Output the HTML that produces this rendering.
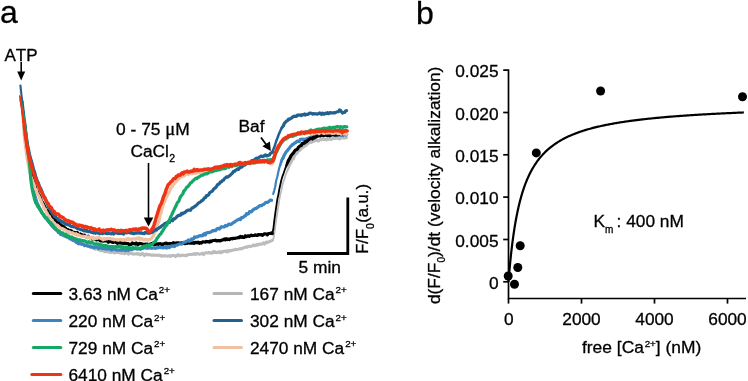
<!DOCTYPE html>
<html><head><meta charset="utf-8">
<style>
html,body{margin:0;padding:0;background:#fff;width:748px;height:381px;overflow:hidden}
svg{display:block;will-change:transform}
text{font-family:"Liberation Sans",sans-serif;fill:#000;stroke:#000;stroke-width:0.3px}
</style></head><body>
<svg width="748" height="381" viewBox="0 0 748 381">
<rect width="748" height="381" fill="#fff"/>
<!-- panel a -->
<text x="0" y="23.3" font-size="32">a</text>
<text x="4.5" y="60.8" font-size="17" style="font-kerning:none">ATP</text>
<line x1="21.2" y1="62" x2="21.2" y2="73" stroke="#000" stroke-width="1.6"/>
<path d="M17.2 71.5 L25.2 71.5 L21.2 80.5 Z" fill="#000"/>
<text x="116" y="135" font-size="17.4">0 - 75 <tspan font-family="Liberation Serif" font-size="18.5">μ</tspan>M</text>
<text x="130.5" y="156.6" font-size="17.3">CaCl<tspan font-size="10.5" dy="5.3" dx="0.3">2</tspan></text>
<line x1="148.5" y1="163" x2="148.5" y2="219" stroke="#000" stroke-width="1.6"/>
<path d="M143.8 217.5 L153.3 217.5 L148.5 226.5 Z" fill="#000"/>
<text x="238.5" y="131.8" font-size="17.3">Baf</text>
<line x1="261" y1="137.5" x2="266.5" y2="145" stroke="#000" stroke-width="1.8"/>
<path d="M262.4 146.2 L269.9 141.5 L270.8 151 Z" fill="#000"/>
<g fill="none" stroke-linejoin="round" stroke-linecap="round">
<path d="M20.5 100.2 L21.5 105.1 L22.5 110.5" stroke="#bcbcbc" stroke-width="2.0"/>
<path d="M22.5 110.5 L23.5 116.1" stroke="#bcbcbc" stroke-width="2.2"/>
<path d="M23.5 116.1 L24.5 124.1" stroke="#bcbcbc" stroke-width="2.8"/>
<path d="M24.5 124.1 L25.5 132.3 L26.5 140.7 L27.5 149.2 L28.5 157.0 L29.5 164.6 L30.5 171.7 L31.5 178.2 L32.5 183.5 L33.5 189.3 L34.5 194.1 L35.5 198.6 L36.5 201.4 L37.5 203.8 L38.5 205.7 L39.5 207.8 L40.5 209.7 L41.5 211.2 L42.5 213.5 L43.5 214.9 L44.5 214.7 L45.5 216.5 L46.5 218.6 L47.5 219.8 L48.5 221.3 L49.5 222.5 L50.5 224.5 L51.5 224.2 L52.5 225.7 L53.5 227.9 L54.5 228.4 L55.5 229.4 L56.5 229.9 L57.5 230.3 L58.5 231.9 L59.5 232.7 L60.5 232.8 L61.5 233.7 L62.5 234.6 L63.5 234.8 L64.5 235.8 L65.5 236.5 L66.5 237.0 L67.5 237.3 L68.5 238.3 L69.5 238.9 L70.5 239.1 L71.5 239.1 L72.5 240.2 L73.5 240.1 L74.5 241.2 L75.5 240.7 L76.5 242.0 L77.5 242.0 L78.5 241.8 L79.5 242.7 L80.5 243.2 L81.5 243.7 L82.5 243.6 L83.5 243.9 L84.5 244.9 L85.5 245.0 L86.5 245.7 L87.5 246.3 L88.5 245.6 L89.5 246.9 L90.5 247.7 L91.5 247.4 L92.5 247.5 L93.5 248.6 L94.5 248.7 L95.5 249.3 L96.5 249.1 L97.5 248.9 L98.5 249.8 L99.5 249.9 L100.5 250.7 L101.5 250.7 L102.5 250.1 L103.5 250.5 L104.5 251.7 L105.5 251.8 L106.5 251.3 L107.5 251.7 L108.5 252.1 L109.5 252.2 L110.5 252.5 L111.5 252.3 L112.5 252.2 L113.5 252.2 L114.5 252.9 L115.5 251.5 L116.5 252.5 L117.5 252.6 L118.5 252.0 L119.5 252.9 L120.5 252.5 L121.5 253.3 L122.5 252.9 L123.5 253.4 L124.5 253.7 L125.5 253.4 L126.5 252.9 L127.5 252.7 L128.5 254.2 L129.5 253.4 L130.5 253.3 L131.5 253.7 L132.5 253.6 L133.5 254.2 L134.5 253.9 L135.5 253.9 L136.5 253.6 L137.5 254.2 L138.5 253.6 L139.5 254.5 L140.5 254.9 L141.5 253.6 L142.5 253.3 L143.5 254.7 L144.5 255.7 L145.5 254.1 L146.5 254.1 L147.5 255.0 L148.5 254.5 L149.5 254.7 L150.5 254.8 L151.5 255.3 L152.5 255.0 L153.5 255.4 L154.5 255.2 L155.5 255.0 L156.5 255.3 L157.5 255.1 L158.5 255.6 L159.5 255.1 L160.5 255.2 L161.5 256.4 L162.5 255.8 L163.5 255.8 L164.5 256.1 L165.5 255.7 L166.5 255.9 L167.5 256.2 L168.5 256.1 L169.5 255.5 L170.5 256.4 L171.5 255.7 L172.5 255.5 L173.5 255.5 L174.5 255.7 L175.5 256.6 L176.5 255.3 L177.5 255.8 L178.5 254.7 L179.5 255.6 L180.5 255.9 L181.5 255.3 L182.5 255.1 L183.5 255.3 L184.5 255.5 L185.5 255.3 L186.5 255.8 L187.5 254.9 L188.5 254.5 L189.5 254.6 L190.5 254.5 L191.5 254.5 L192.5 254.3 L193.5 254.3 L194.5 253.4 L195.5 254.4 L196.5 253.7 L197.5 253.4 L198.5 254.1 L199.5 254.3 L200.5 253.9 L201.5 253.6 L202.5 253.1 L203.5 254.7 L204.5 253.7 L205.5 252.7 L206.5 252.8 L207.5 253.1 L208.5 252.3 L209.5 253.0 L210.5 252.6 L211.5 253.3 L212.5 253.1 L213.5 251.4 L214.5 252.5 L215.5 251.7 L216.5 252.8 L217.5 252.3 L218.5 252.4 L219.5 251.5 L220.5 252.7 L221.5 252.7 L222.5 251.2 L223.5 251.8 L224.5 251.2 L225.5 251.4 L226.5 250.7 L227.5 252.0 L228.5 250.6 L229.5 250.7 L230.5 251.0 L231.5 250.3 L232.5 250.3 L233.5 250.0 L234.5 250.0 L235.5 249.3 L236.5 249.5 L237.5 249.4 L238.5 249.1 L239.5 249.0 L240.5 248.6 L241.5 248.9 L242.5 248.2 L243.5 248.0 L244.5 247.5 L245.5 247.3 L246.5 246.8 L247.5 247.3 L248.5 246.3 L249.5 246.3 L250.5 246.5 L251.5 246.3 L252.5 245.8 L253.5 244.8 L254.5 245.7 L255.5 245.5 L256.5 244.5 L257.5 245.3 L258.5 244.4 L259.5 244.0 L260.5 244.4 L261.5 244.0 L262.5 243.9 L263.5 242.9 L264.5 244.1 L265.5 242.7 L266.5 242.0 L267.5 242.6 L268.5 241.8 L269.5 241.8 L270.5 241.1 L271.5 240.8 L272.5 240.2" stroke="#bcbcbc" stroke-width="3.0"/>
<path d="M272.5 240.2 L273.5 238.7 L274.5 232.5 L275.5 224.4 L276.5 217.7 L277.5 211.7 L278.5 205.2 L279.5 198.9 L280.5 193.7 L281.5 189.9 L282.5 184.8 L283.5 181.5 L284.5 178.8 L285.5 175.1 L286.5 172.9 L287.5 170.2" stroke="#bcbcbc" stroke-width="1.8"/>
<path d="M287.5 170.2 L288.5 168.2" stroke="#bcbcbc" stroke-width="2.0"/>
<path d="M288.5 168.2 L289.5 165.1" stroke="#bcbcbc" stroke-width="2.2"/>
<path d="M289.5 165.1 L290.5 163.0" stroke="#bcbcbc" stroke-width="2.8"/>
<path d="M290.5 163.0 L291.5 161.4 L292.5 158.1 L293.5 158.9 L294.5 155.7 L295.5 154.4 L296.5 153.8 L297.5 152.3 L298.5 150.4 L299.5 150.5 L300.5 149.7 L301.5 148.3 L302.5 147.6 L303.5 147.2 L304.5 145.9 L305.5 145.8 L306.5 145.0 L307.5 143.9 L308.5 143.0 L309.5 142.9 L310.5 142.1 L311.5 142.4 L312.5 141.6 L313.5 141.5 L314.5 140.9 L315.5 140.7 L316.5 140.1 L317.5 140.6 L318.5 141.0 L319.5 139.9 L320.5 139.6 L321.5 139.7 L322.5 139.4 L323.5 139.2 L324.5 139.5 L325.5 139.2 L326.5 139.9 L327.5 139.1 L328.5 139.2 L329.5 139.4 L330.5 138.7 L331.5 139.4 L332.5 138.4 L333.5 138.3 L334.5 138.4 L335.5 138.5 L336.5 137.8 L337.5 138.4 L338.5 137.6 L339.5 139.0 L340.5 138.3 L341.5 138.0 L342.5 137.8 L343.5 138.1 L344.5 138.1 L345.5 137.7 L346.5 137.8" stroke="#bcbcbc" stroke-width="3.0"/>
<path d="M20.5 99.6 L21.5 104.2 L22.5 110.3" stroke="#3b84c0" stroke-width="2.0"/>
<path d="M22.5 110.3 L23.5 116.8" stroke="#3b84c0" stroke-width="2.5"/>
<path d="M23.5 116.8 L24.5 124.2" stroke="#3b84c0" stroke-width="2.8"/>
<path d="M24.5 124.2 L25.5 132.2 L26.5 140.7 L27.5 148.6 L28.5 157.1 L29.5 165.2 L30.5 171.7 L31.5 177.4 L32.5 183.5 L33.5 190.3 L34.5 194.8 L35.5 198.1 L36.5 201.9 L37.5 203.9 L38.5 206.3 L39.5 208.2 L40.5 209.8 L41.5 212.1 L42.5 213.4 L43.5 214.7 L44.5 216.6 L45.5 218.2 L46.5 218.5 L47.5 220.4 L48.5 221.3 L49.5 222.8 L50.5 223.5 L51.5 225.3 L52.5 226.4 L53.5 227.4 L54.5 228.1 L55.5 229.5 L56.5 230.2 L57.5 231.0 L58.5 232.5 L59.5 232.7 L60.5 234.3 L61.5 234.7 L62.5 234.0 L63.5 235.6 L64.5 235.4 L65.5 236.4 L66.5 236.8 L67.5 236.3 L68.5 237.5 L69.5 238.0 L70.5 239.0 L71.5 238.6 L72.5 240.1 L73.5 239.8 L74.5 240.8 L75.5 241.1 L76.5 242.6 L77.5 242.6 L78.5 243.8 L79.5 243.4 L80.5 243.9 L81.5 244.2 L82.5 243.9 L83.5 244.5 L84.5 245.5 L85.5 245.0 L86.5 245.6 L87.5 245.8 L88.5 246.3 L89.5 246.1 L90.5 246.5 L91.5 246.9 L92.5 247.1 L93.5 246.8 L94.5 247.8 L95.5 247.0 L96.5 247.2 L97.5 247.3 L98.5 248.5 L99.5 248.0 L100.5 247.8 L101.5 247.9 L102.5 248.7 L103.5 248.2 L104.5 248.2 L105.5 249.1 L106.5 248.4 L107.5 248.9 L108.5 249.1 L109.5 249.0 L110.5 249.3 L111.5 250.1 L112.5 249.4 L113.5 249.1 L114.5 249.0 L115.5 249.8 L116.5 249.9 L117.5 250.2 L118.5 250.0 L119.5 250.0 L120.5 249.9 L121.5 249.9" stroke="#3b84c0" stroke-width="3.2"/>
<path d="M273.2 194.0 L274.2 190.6 L275.2 186.7 L276.2 180.5 L277.2 177.2 L278.2 172.6 L279.2 168.1 L280.2 165.1" stroke="#3b84c0" stroke-width="2.2"/>
<path d="M280.2 165.1 L281.2 161.9" stroke="#3b84c0" stroke-width="2.5"/>
<path d="M281.2 161.9 L282.2 159.1" stroke="#3b84c0" stroke-width="2.8"/>
<path d="M282.2 159.1 L283.2 157.7 L284.2 155.2 L285.2 153.5 L286.2 151.7 L287.2 150.9 L288.2 149.4 L289.2 148.5 L290.2 146.8 L291.2 146.0 L292.2 144.6 L293.2 144.4 L294.2 143.3 L295.2 142.7 L296.2 142.2 L297.2 141.1 L298.2 141.5 L299.2 141.6 L300.2 139.6 L301.2 139.2 L302.2 139.0 L303.2 139.8 L304.2 139.2 L305.2 139.4 L306.2 139.0 L307.2 138.5 L308.2 138.3 L309.2 137.8 L310.2 138.0 L311.2 136.8 L312.2 136.8 L313.2 136.7 L314.2 137.1 L315.2 135.7 L316.2 135.3 L317.2 135.3 L318.2 135.8 L319.2 135.1 L320.2 135.8 L321.2 134.3 L322.2 135.6 L323.2 135.6 L324.2 134.4 L325.2 135.1 L326.2 135.6 L327.2 135.0 L328.2 135.4 L329.2 136.0 L330.2 135.1 L331.2 134.8 L332.2 134.6 L333.2 135.2 L334.2 134.8 L335.2 134.8 L336.2 134.8 L337.2 135.1 L338.2 134.4 L339.2 134.1 L340.2 133.7 L341.2 135.4 L342.2 134.8 L343.2 135.5 L344.2 134.8 L345.2 134.5 L346.2 135.0" stroke="#3b84c0" stroke-width="3.2"/>
<path d="M20.3 95.9 L21.3 100.9 L22.3 110.0" stroke="#000000" stroke-width="2.0"/>
<path d="M22.3 110.0 L23.3 118.0" stroke="#000000" stroke-width="2.2"/>
<path d="M23.3 118.0 L24.3 127.8" stroke="#000000" stroke-width="2.8"/>
<path d="M24.3 127.8 L25.3 138.7 L26.3 146.3 L27.3 153.7 L28.3 159.2 L29.3 166.2 L30.3 169.5 L31.3 173.5 L32.3 177.6 L33.3 181.0 L34.3 184.0 L35.3 186.9 L36.3 189.7 L37.3 191.5 L38.3 194.0 L39.3 195.5 L40.3 197.6 L41.3 200.5 L42.3 202.2 L43.3 203.8 L44.3 205.9 L45.3 207.9 L46.3 210.1 L47.3 210.4 L48.3 211.7 L49.3 213.4 L50.3 213.7 L51.3 215.1 L52.3 216.8 L53.3 217.9 L54.3 218.8 L55.3 220.2 L56.3 219.7 L57.3 222.4 L58.3 222.5 L59.3 223.0 L60.3 224.7 L61.3 225.6 L62.3 225.8 L63.3 226.2 L64.3 227.4 L65.3 228.0 L66.3 229.3 L67.3 229.5 L68.3 229.8 L69.3 230.8 L70.3 230.6 L71.3 230.8 L72.3 231.9 L73.3 232.3 L74.3 232.4 L75.3 232.5 L76.3 233.4 L77.3 232.5 L78.3 234.3 L79.3 234.6 L80.3 234.0 L81.3 235.1 L82.3 234.9 L83.3 236.0 L84.3 235.1 L85.3 235.9 L86.3 236.9 L87.3 237.5 L88.3 236.3 L89.3 237.3 L90.3 238.0 L91.3 237.8 L92.3 239.1 L93.3 238.1 L94.3 239.0 L95.3 238.6 L96.3 239.9 L97.3 239.5 L98.3 239.6 L99.3 239.2 L100.3 240.9 L101.3 240.7 L102.3 240.9 L103.3 241.2 L104.3 241.0 L105.3 240.8 L106.3 240.9 L107.3 241.0 L108.3 242.2 L109.3 241.0 L110.3 241.6 L111.3 241.8 L112.3 242.2 L113.3 242.5 L114.3 241.8 L115.3 241.7 L116.3 242.6 L117.3 243.3 L118.3 243.2 L119.3 243.0 L120.3 242.9 L121.3 243.2 L122.3 243.1 L123.3 243.6 L124.3 243.0 L125.3 243.4 L126.3 243.4 L127.3 243.7 L128.3 243.7 L129.3 244.8 L130.3 244.4 L131.3 244.4 L132.3 242.9 L133.3 243.7 L134.3 243.6 L135.3 244.1 L136.3 242.9 L137.3 244.5 L138.3 244.5 L139.3 243.4 L140.3 243.6 L141.3 243.7 L142.3 244.0 L143.3 244.3 L144.3 245.0 L145.3 244.0 L146.3 244.4 L147.3 244.1 L148.3 244.9 L149.3 244.4 L150.3 244.7 L151.3 243.6 L152.3 244.0 L153.3 243.7 L154.3 244.8 L155.3 244.4 L156.3 244.0 L157.3 243.9 L158.3 244.3 L159.3 243.8 L160.3 243.6 L161.3 244.2 L162.3 245.1 L163.3 243.8 L164.3 243.6 L165.3 243.3 L166.3 243.1 L167.3 243.9 L168.3 244.0 L169.3 243.5 L170.3 243.6 L171.3 243.5 L172.3 243.5 L173.3 242.7 L174.3 243.1 L175.3 243.3 L176.3 242.9 L177.3 243.0 L178.3 242.8 L179.3 243.0 L180.3 243.5 L181.3 242.9 L182.3 243.0 L183.3 243.4 L184.3 243.3 L185.3 243.7 L186.3 242.0 L187.3 243.3 L188.3 242.6 L189.3 242.9 L190.3 243.2 L191.3 243.2 L192.3 243.2 L193.3 242.7 L194.3 243.3 L195.3 242.4 L196.3 242.4 L197.3 242.8 L198.3 242.1 L199.3 243.3 L200.3 242.7 L201.3 243.1 L202.3 242.1 L203.3 241.8 L204.3 242.0 L205.3 242.1 L206.3 241.4 L207.3 241.8 L208.3 241.5 L209.3 242.1 L210.3 241.0 L211.3 241.6 L212.3 240.8 L213.3 240.5 L214.3 240.5 L215.3 240.2 L216.3 240.7 L217.3 241.0 L218.3 240.5 L219.3 240.6 L220.3 240.9 L221.3 240.2 L222.3 240.1 L223.3 239.7 L224.3 239.0 L225.3 239.9 L226.3 238.7 L227.3 239.6 L228.3 239.2 L229.3 239.6 L230.3 238.9 L231.3 238.5 L232.3 238.8 L233.3 238.3 L234.3 238.3 L235.3 238.3 L236.3 238.0 L237.3 237.9 L238.3 237.4 L239.3 237.6 L240.3 236.5 L241.3 237.3 L242.3 236.6 L243.3 237.5 L244.3 237.4 L245.3 235.8 L246.3 236.6 L247.3 236.3 L248.3 235.8 L249.3 236.3 L250.3 235.7 L251.3 235.0 L252.3 235.6 L253.3 235.5 L254.3 235.5 L255.3 234.8 L256.3 235.5 L257.3 235.5 L258.3 234.5 L259.3 234.7 L260.3 234.8 L261.3 234.5 L262.3 235.4 L263.3 234.6 L264.3 233.9 L265.3 233.8 L266.3 234.0 L267.3 234.9 L268.3 233.6 L269.3 233.5 L270.3 233.4 L271.3 232.9 L272.3 233.6" stroke="#000000" stroke-width="3.2"/>
<path d="M272.3 233.6 L273.3 229.3 L274.3 220.6 L275.3 213.1 L276.3 206.4 L277.3 199.3 L278.3 195.1 L279.3 189.3 L280.3 184.8 L281.3 180.3 L282.3 176.8 L283.3 174.1 L284.3 171.2 L285.3 168.3 L286.3 165.9" stroke="#000000" stroke-width="1.8"/>
<path d="M286.3 165.9 L287.3 163.3" stroke="#000000" stroke-width="2.5"/>
<path d="M287.3 163.3 L288.3 160.8" stroke="#000000" stroke-width="3.0"/>
<path d="M288.3 160.8 L289.3 159.2 L290.3 157.2 L291.3 155.3 L292.3 154.2 L293.3 153.2 L294.3 151.6 L295.3 150.2 L296.3 149.7 L297.3 149.3 L298.3 147.4 L299.3 146.6 L300.3 145.7 L301.3 145.5 L302.3 143.3 L303.3 143.6 L304.3 143.2 L305.3 141.6 L306.3 142.0 L307.3 140.9 L308.3 139.8 L309.3 139.6 L310.3 138.4 L311.3 138.4 L312.3 139.0 L313.3 137.3 L314.3 138.1 L315.3 136.9 L316.3 137.0 L317.3 136.3 L318.3 135.0 L319.3 135.6 L320.3 135.9 L321.3 135.2 L322.3 135.0 L323.3 135.7 L324.3 135.2 L325.3 134.6 L326.3 135.0 L327.3 135.6 L328.3 135.0 L329.3 135.5 L330.3 135.7 L331.3 135.0 L332.3 134.4 L333.3 134.3 L334.3 134.9 L335.3 135.2 L336.3 134.9 L337.3 135.0 L338.3 134.5 L339.3 134.8 L340.3 134.5 L341.3 134.5 L342.3 134.1 L343.3 133.9 L344.3 134.4 L345.3 134.1 L346.3 134.2" stroke="#000000" stroke-width="3.2"/>
<path d="M20.1 85.7 L21.1 97.6 L22.1 110.0" stroke="#f1c0a0" stroke-width="2.0"/>
<path d="M22.1 110.0 L23.1 121.2" stroke="#f1c0a0" stroke-width="2.2"/>
<path d="M23.1 121.2 L24.1 132.1" stroke="#f1c0a0" stroke-width="2.8"/>
<path d="M24.1 132.1 L25.1 143.0 L26.1 150.7 L27.1 158.0 L28.1 163.1 L29.1 168.7 L30.1 172.8 L31.1 177.0 L32.1 179.6 L33.1 182.6 L34.1 184.5 L35.1 188.8 L36.1 189.4 L37.1 193.1 L38.1 194.6 L39.1 196.6 L40.1 198.8 L41.1 201.0 L42.1 203.7 L43.1 205.6 L44.1 208.4 L45.1 208.9 L46.1 211.6 L47.1 213.1 L48.1 215.7 L49.1 216.0 L50.1 218.1 L51.1 219.6 L52.1 220.1 L53.1 222.3 L54.1 223.0 L55.1 224.3 L56.1 225.2 L57.1 225.1 L58.1 225.9 L59.1 226.8 L60.1 227.9 L61.1 228.5 L62.1 228.4 L63.1 229.0 L64.1 229.4 L65.1 230.0 L66.1 230.6 L67.1 231.1 L68.1 232.5 L69.1 231.7 L70.1 232.2 L71.1 232.9 L72.1 232.7 L73.1 233.3 L74.1 233.7 L75.1 234.4 L76.1 233.7 L77.1 235.2 L78.1 234.7 L79.1 235.2 L80.1 235.8 L81.1 236.0 L82.1 236.4 L83.1 236.2 L84.1 236.4 L85.1 236.7 L86.1 236.4 L87.1 237.6 L88.1 236.9 L89.1 236.8 L90.1 238.5 L91.1 237.7 L92.1 237.3 L93.1 238.8 L94.1 238.0 L95.1 238.7 L96.1 237.9 L97.1 238.3 L98.1 237.7 L99.1 237.7 L100.1 238.1 L101.1 238.6 L102.1 239.1 L103.1 239.9 L104.1 238.4 L105.1 239.3 L106.1 238.6 L107.1 238.9 L108.1 238.3 L109.1 238.4 L110.1 238.8 L111.1 238.6 L112.1 239.2 L113.1 238.9 L114.1 239.9 L115.1 239.4 L116.1 239.5 L117.1 240.0 L118.1 239.7 L119.1 239.5 L120.1 239.5 L121.1 239.4 L122.1 240.0 L123.1 239.8 L124.1 239.6 L125.1 239.7 L126.1 239.1 L127.1 239.5 L128.1 238.5 L129.1 239.7 L130.1 239.1 L131.1 239.1 L132.1 239.2 L133.1 238.8 L134.1 238.7 L135.1 239.3 L136.1 238.7 L137.1 238.2 L138.1 238.8 L139.1 237.8 L140.1 239.3 L141.1 238.6 L142.1 238.7 L143.1 239.9 L144.1 239.9 L145.1 239.2 L146.1 239.5 L147.1 239.9 L148.1 240.2 L149.1 239.4 L150.1 239.3 L151.1 239.0 L152.1 237.4 L153.1 236.1 L154.1 234.3 L155.1 231.7 L156.1 229.3 L157.1 225.5 L158.1 223.2 L159.1 220.5 L160.1 215.4 L161.1 212.4 L162.1 208.7 L163.1 205.3 L164.1 202.7 L165.1 200.4 L166.1 197.8 L167.1 195.9 L168.1 193.9 L169.1 192.1 L170.1 190.1 L171.1 187.6 L172.1 186.7 L173.1 184.7 L174.1 183.8 L175.1 182.8 L176.1 181.5 L177.1 180.4 L178.1 179.5 L179.1 178.2 L180.1 177.3 L181.1 176.8 L182.1 176.6 L183.1 175.6 L184.1 176.0 L185.1 174.9 L186.1 173.2 L187.1 174.0 L188.1 174.7 L189.1 173.8 L190.1 173.4 L191.1 173.0 L192.1 173.8 L193.1 173.5 L194.1 173.2 L195.1 172.9 L196.1 173.3 L197.1 172.9 L198.1 171.8 L199.1 172.6 L200.1 172.1 L201.1 171.9 L202.1 172.1 L203.1 171.6 L204.1 170.1 L205.1 171.9 L206.1 171.4 L207.1 170.7 L208.1 170.3 L209.1 170.3 L210.1 169.3 L211.1 169.8 L212.1 169.2 L213.1 168.9 L214.1 168.3 L215.1 168.2 L216.1 168.7 L217.1 168.5 L218.1 167.8 L219.1 167.3 L220.1 166.7 L221.1 167.1 L222.1 167.3 L223.1 165.6 L224.1 166.7 L225.1 165.0 L226.1 165.7 L227.1 165.8 L228.1 164.9 L229.1 164.6 L230.1 165.3 L231.1 165.4 L232.1 164.7 L233.1 165.3 L234.1 164.3 L235.1 165.3 L236.1 164.4 L237.1 164.3 L238.1 164.4 L239.1 164.1 L240.1 164.7 L241.1 164.7 L242.1 163.9 L243.1 163.4 L244.1 162.9 L245.1 163.0 L246.1 163.2 L247.1 163.0 L248.1 163.0 L249.1 162.9 L250.1 163.0 L251.1 162.1 L252.1 162.1 L253.1 163.0 L254.1 162.7 L255.1 162.0 L256.1 162.7 L257.1 161.7 L258.1 161.8 L259.1 161.0 L260.1 162.1 L261.1 161.7 L262.1 162.1 L263.1 161.9 L264.1 161.6 L265.1 161.6 L266.1 162.0 L267.1 161.7 L268.1 162.2 L269.1 162.9 L270.1 163.7 L271.1 163.9 L272.1 163.8 L273.1 161.8 L274.1 160.0 L275.1 155.6 L276.1 152.6 L277.1 150.0 L278.1 148.6 L279.1 146.2 L280.1 144.0 L281.1 142.9 L282.1 141.5 L283.1 140.2 L284.1 139.4 L285.1 138.4 L286.1 139.4 L287.1 137.6 L288.1 137.5 L289.1 136.1 L290.1 135.8 L291.1 135.9 L292.1 135.6 L293.1 135.7 L294.1 134.5 L295.1 135.0 L296.1 135.1 L297.1 133.8 L298.1 134.4 L299.1 133.4 L300.1 133.8 L301.1 133.6 L302.1 134.2 L303.1 133.0 L304.1 133.3 L305.1 133.7 L306.1 132.7 L307.1 133.1 L308.1 132.7 L309.1 132.7 L310.1 133.3 L311.1 133.3 L312.1 134.1 L313.1 133.6 L314.1 133.5 L315.1 132.8 L316.1 132.7 L317.1 132.9 L318.1 131.8 L319.1 133.6 L320.1 132.5 L321.1 132.3 L322.1 132.6 L323.1 133.2 L324.1 133.4 L325.1 132.7 L326.1 133.1 L327.1 132.9 L328.1 132.5 L329.1 133.0 L330.1 133.0 L331.1 132.3 L332.1 133.6 L333.1 132.4 L334.1 133.3 L335.1 132.7 L336.1 132.9 L337.1 133.0 L338.1 133.7 L339.1 132.9 L340.1 133.5 L341.1 134.3 L342.1 133.4 L343.1 133.8 L344.1 134.2 L345.1 133.7 L346.1 134.3 L347.1 133.9" stroke="#f1c0a0" stroke-width="3.2"/>
<path d="M120.5 249.9 L121.5 249.9 L122.5 250.2 L123.5 249.9 L124.5 250.1 L125.5 250.8 L126.5 250.1 L127.5 249.1 L128.5 250.5 L129.5 249.7 L130.5 249.0 L131.5 249.8 L132.5 249.2 L133.5 248.8 L134.5 248.7 L135.5 248.5 L136.5 248.8 L137.5 249.2 L138.5 248.5 L139.5 248.7 L140.5 249.3 L141.5 247.9 L142.5 248.5 L143.5 248.1 L144.5 247.8 L145.5 247.7 L146.5 248.1 L147.5 248.3 L148.5 247.8 L149.5 248.0 L150.5 248.2 L151.5 248.0 L152.5 248.2 L153.5 248.0 L154.5 247.9 L155.5 248.5 L156.5 247.9 L157.5 247.6 L158.5 247.8 L159.5 247.0 L160.5 247.2 L161.5 247.7 L162.5 247.6 L163.5 247.9 L164.5 247.2 L165.5 246.5 L166.5 248.0 L167.5 247.5 L168.5 246.5 L169.5 247.5 L170.5 246.8 L171.5 245.8 L172.5 246.2 L173.5 246.0 L174.5 246.6 L175.5 245.3 L176.5 245.2 L177.5 244.9 L178.5 244.5 L179.5 243.9 L180.5 244.0 L181.5 244.1 L182.5 243.5 L183.5 242.4 L184.5 242.0 L185.5 242.1 L186.5 241.3 L187.5 240.9 L188.5 240.0 L189.5 241.2 L190.5 240.2 L191.5 238.9 L192.5 239.3 L193.5 239.0 L194.5 236.9 L195.5 237.3 L196.5 236.9 L197.5 237.0 L198.5 236.3 L199.5 235.8 L200.5 235.5 L201.5 236.0 L202.5 235.8 L203.5 234.2 L204.5 233.6 L205.5 234.9 L206.5 232.9 L207.5 232.7 L208.5 232.6 L209.5 232.4 L210.5 232.2 L211.5 231.6 L212.5 230.6 L213.5 230.9 L214.5 230.4 L215.5 230.7 L216.5 229.5 L217.5 228.5 L218.5 228.3 L219.5 229.0 L220.5 227.8 L221.5 226.7 L222.5 227.0 L223.5 226.8 L224.5 226.9 L225.5 225.5 L226.5 225.9 L227.5 225.5 L228.5 224.4 L229.5 224.1 L230.5 224.6 L231.5 224.1 L232.5 223.2 L233.5 222.4 L234.5 222.2 L235.5 221.1 L236.5 220.6 L237.5 219.7 L238.5 219.5 L239.5 218.9 L240.5 219.6 L241.5 217.6 L242.5 217.7 L243.5 217.1 L244.5 215.9 L245.5 215.9 L246.5 213.7 L247.5 214.1 L248.5 213.8 L249.5 211.6 L250.5 211.5 L251.5 211.8 L252.5 210.5 L253.5 209.5 L254.5 209.1 L255.5 208.4 L256.5 208.3 L257.5 207.5 L258.5 206.6 L259.5 205.9 L260.5 205.6 L261.5 205.7 L262.5 204.8 L263.5 204.5 L264.5 203.6 L265.5 202.6 L266.5 202.4 L267.5 202.5 L268.5 201.8 L269.5 200.8 L270.5 200.0 L271.5 200.3" stroke="#3b84c0" stroke-width="3.2"/>
<path d="M20.5 85.5 L21.5 95.1 L22.5 102.1" stroke="#22618f" stroke-width="2.0"/>
<path d="M22.5 102.1 L23.5 111.9" stroke="#22618f" stroke-width="2.5"/>
<path d="M23.5 111.9 L24.5 121.3" stroke="#22618f" stroke-width="2.8"/>
<path d="M24.5 121.3 L25.5 130.3 L26.5 138.0 L27.5 144.8 L28.5 149.5 L29.5 154.3 L30.5 158.3 L31.5 161.5 L32.5 165.2 L33.5 169.2 L34.5 172.0 L35.5 175.8 L36.5 178.7 L37.5 181.6 L38.5 183.4 L39.5 186.6 L40.5 188.1 L41.5 190.6 L42.5 193.3 L43.5 195.7 L44.5 197.0 L45.5 199.1 L46.5 202.2 L47.5 203.9 L48.5 206.9 L49.5 208.6 L50.5 210.3 L51.5 211.9 L52.5 213.7 L53.5 214.6 L54.5 216.4 L55.5 216.8 L56.5 218.0 L57.5 218.6 L58.5 219.9 L59.5 220.3 L60.5 220.5 L61.5 222.3 L62.5 221.7 L63.5 222.3 L64.5 223.1 L65.5 224.2 L66.5 223.8 L67.5 224.7 L68.5 224.9 L69.5 224.6 L70.5 226.1 L71.5 226.6 L72.5 226.4 L73.5 226.9 L74.5 226.6 L75.5 227.0 L76.5 227.9 L77.5 228.7 L78.5 228.5 L79.5 229.1 L80.5 229.7 L81.5 229.6 L82.5 230.1 L83.5 230.8 L84.5 229.8 L85.5 231.0 L86.5 230.1 L87.5 231.4 L88.5 231.6 L89.5 231.6 L90.5 231.7 L91.5 232.4 L92.5 232.5 L93.5 232.9 L94.5 232.6 L95.5 233.3 L96.5 232.6 L97.5 233.0 L98.5 233.0 L99.5 233.8 L100.5 232.5 L101.5 233.1 L102.5 233.8 L103.5 233.0 L104.5 232.8 L105.5 233.5 L106.5 233.2 L107.5 233.7 L108.5 233.0 L109.5 233.5 L110.5 233.7 L111.5 233.9 L112.5 232.9 L113.5 234.0 L114.5 233.0 L115.5 232.7 L116.5 232.9 L117.5 233.4 L118.5 233.2 L119.5 233.5 L120.5 233.5 L121.5 233.4 L122.5 233.2 L123.5 234.1 L124.5 232.2 L125.5 232.4 L126.5 233.0 L127.5 232.6 L128.5 232.0 L129.5 232.8 L130.5 232.8 L131.5 232.0 L132.5 233.5 L133.5 233.6 L134.5 233.6 L135.5 232.8 L136.5 233.1 L137.5 232.5 L138.5 233.1 L139.5 232.7 L140.5 233.2 L141.5 232.8 L142.5 233.5 L143.5 233.4 L144.5 233.6 L145.5 232.3 L146.5 232.2 L147.5 233.2 L148.5 232.7 L149.5 233.2 L150.5 232.9 L151.5 232.4 L152.5 232.1 L153.5 231.3 L154.5 230.6 L155.5 229.4 L156.5 230.0 L157.5 228.7 L158.5 228.4 L159.5 227.4 L160.5 227.2 L161.5 226.0 L162.5 225.4 L163.5 224.8 L164.5 223.8 L165.5 223.3 L166.5 222.9 L167.5 222.4 L168.5 221.5 L169.5 222.4 L170.5 220.4 L171.5 220.1 L172.5 220.8 L173.5 218.8 L174.5 218.9 L175.5 218.2 L176.5 217.2 L177.5 216.1 L178.5 215.4 L179.5 215.5 L180.5 215.1 L181.5 213.3 L182.5 213.8 L183.5 212.8 L184.5 212.9 L185.5 212.0 L186.5 210.9 L187.5 210.5 L188.5 210.1 L189.5 210.1 L190.5 210.3 L191.5 208.5 L192.5 207.8 L193.5 207.4 L194.5 206.4 L195.5 206.0 L196.5 205.1 L197.5 204.1 L198.5 202.9 L199.5 202.5 L200.5 201.9 L201.5 200.7 L202.5 200.4 L203.5 199.2 L204.5 197.8 L205.5 197.7 L206.5 195.5 L207.5 195.6 L208.5 195.0 L209.5 193.0 L210.5 192.1 L211.5 191.6 L212.5 190.9 L213.5 189.4 L214.5 188.4 L215.5 187.7 L216.5 186.4 L217.5 184.8 L218.5 184.3 L219.5 183.5 L220.5 181.9 L221.5 181.9 L222.5 180.5 L223.5 180.3 L224.5 178.5 L225.5 177.9 L226.5 176.8 L227.5 177.2 L228.5 176.4 L229.5 175.7 L230.5 174.9 L231.5 173.9 L232.5 173.1 L233.5 171.3 L234.5 171.5 L235.5 170.4 L236.5 169.9 L237.5 168.8 L238.5 169.3 L239.5 168.2 L240.5 166.9 L241.5 167.2 L242.5 166.3 L243.5 165.3 L244.5 165.1 L245.5 164.4 L246.5 163.1 L247.5 162.9 L248.5 163.3 L249.5 162.7 L250.5 162.1 L251.5 160.9 L252.5 160.6 L253.5 160.3 L254.5 160.1 L255.5 158.8 L256.5 158.2 L257.5 158.7 L258.5 157.7 L259.5 157.0 L260.5 156.4 L261.5 156.1 L262.5 156.7 L263.5 156.2 L264.5 155.4 L265.5 154.8 L266.5 156.0 L267.5 155.7 L268.5 155.3 L269.5 154.9 L270.5 153.2 L271.5 152.9 L272.5 151.9" stroke="#22618f" stroke-width="3.2"/>
<path d="M272.5 151.9 L273.5 149.1 L274.5 146.8 L275.5 143.5 L276.5 140.3 L277.5 138.0 L278.5 135.0 L279.5 132.7 L280.5 130.5 L281.5 128.3" stroke="#22618f" stroke-width="2.5"/>
<path d="M281.5 128.3 L282.5 126.9" stroke="#22618f" stroke-width="2.8"/>
<path d="M282.5 126.9 L283.5 125.6" stroke="#22618f" stroke-width="3.0"/>
<path d="M283.5 125.6 L284.5 123.0 L285.5 122.3 L286.5 121.1 L287.5 120.8 L288.5 119.1 L289.5 119.3 L290.5 118.6 L291.5 118.1 L292.5 116.9 L293.5 116.8 L294.5 116.0 L295.5 116.4 L296.5 116.4 L297.5 115.0 L298.5 115.1 L299.5 115.2 L300.5 114.9 L301.5 115.6 L302.5 114.7 L303.5 114.7 L304.5 114.0 L305.5 115.0 L306.5 114.3 L307.5 114.5 L308.5 114.1 L309.5 113.0 L310.5 113.2 L311.5 113.3 L312.5 114.1 L313.5 113.6 L314.5 114.0 L315.5 113.9 L316.5 113.8 L317.5 114.1 L318.5 113.7 L319.5 112.9 L320.5 113.3 L321.5 114.3 L322.5 113.1 L323.5 114.1 L324.5 114.2 L325.5 113.2 L326.5 113.6 L327.5 112.7 L328.5 113.7 L329.5 112.9 L330.5 112.6 L331.5 113.0 L332.5 112.9 L333.5 112.7 L334.5 113.0 L335.5 112.6 L336.5 112.0 L337.5 111.8 L338.5 111.6 L339.5 110.0 L340.5 110.4 L341.5 111.8 L342.5 113.0 L343.5 112.5 L344.5 112.5 L345.5 111.1 L346.5 110.7" stroke="#22618f" stroke-width="3.2"/>
<path d="M20.8 100.0 L21.8 105.7" stroke="#14a866" stroke-width="2.0"/>
<path d="M21.8 105.7 L22.8 111.7" stroke="#14a866" stroke-width="2.2"/>
<path d="M22.8 111.7 L23.8 118.2" stroke="#14a866" stroke-width="2.5"/>
<path d="M23.8 118.2 L24.8 126.0" stroke="#14a866" stroke-width="3.0"/>
<path d="M24.8 126.0 L25.8 134.4 L26.8 143.4 L27.8 151.5 L28.8 157.9 L29.8 166.9 L30.8 179.6 L31.8 186.6 L32.8 192.2 L33.8 196.2 L34.8 200.0 L35.8 203.0 L36.8 204.3 L37.8 206.6 L38.8 207.6 L39.8 209.4 L40.8 210.7 L41.8 212.8 L42.8 213.7 L43.8 215.6 L44.8 216.8 L45.8 217.8 L46.8 217.8 L47.8 219.8 L48.8 221.1 L49.8 222.3 L50.8 222.7 L51.8 224.3 L52.8 225.2 L53.8 226.4 L54.8 228.2 L55.8 228.4 L56.8 229.6 L57.8 230.8 L58.8 230.8 L59.8 231.6 L60.8 232.3 L61.8 232.9 L62.8 232.9 L63.8 234.0 L64.8 235.0 L65.8 234.2 L66.8 235.8 L67.8 235.9 L68.8 235.9 L69.8 237.5 L70.8 237.4 L71.8 236.9 L72.8 237.8 L73.8 238.4 L74.8 238.4 L75.8 239.1 L76.8 239.1 L77.8 239.7 L78.8 240.4 L79.8 239.7 L80.8 240.4 L81.8 240.4 L82.8 240.9 L83.8 240.6 L84.8 241.1 L85.8 241.5 L86.8 242.3 L87.8 242.6 L88.8 241.7 L89.8 242.2 L90.8 243.1 L91.8 242.1 L92.8 243.0 L93.8 243.4 L94.8 244.2 L95.8 244.2 L96.8 243.9 L97.8 244.1 L98.8 244.4 L99.8 245.4 L100.8 244.7 L101.8 245.0 L102.8 245.5 L103.8 245.5 L104.8 245.6 L105.8 245.4 L106.8 246.0 L107.8 246.0 L108.8 246.8 L109.8 246.7 L110.8 246.5 L111.8 246.8 L112.8 246.5 L113.8 247.1 L114.8 246.7 L115.8 247.0 L116.8 246.2 L117.8 247.0 L118.8 246.2 L119.8 246.1 L120.8 246.9 L121.8 246.7 L122.8 247.3 L123.8 248.3 L124.8 247.0 L125.8 247.1 L126.8 247.6 L127.8 247.8 L128.8 247.6 L129.8 247.6 L130.8 248.1 L131.8 248.1 L132.8 247.5 L133.8 248.0 L134.8 248.1 L135.8 247.6 L136.8 248.3 L137.8 247.8 L138.8 248.6 L139.8 248.3 L140.8 248.2 L141.8 247.6 L142.8 247.3 L143.8 246.0 L144.8 246.1 L145.8 246.5 L146.8 245.1 L147.8 246.3 L148.8 244.9 L149.8 245.7 L150.8 244.7 L151.8 244.9 L152.8 243.8 L153.8 242.0 L154.8 242.1 L155.8 240.8 L156.8 238.8 L157.8 237.4 L158.8 236.1 L159.8 234.5 L160.8 234.1 L161.8 232.0 L162.8 230.8 L163.8 229.0 L164.8 227.6 L165.8 225.7 L166.8 225.2 L167.8 222.9 L168.8 221.5 L169.8 219.1 L170.8 216.6 L171.8 214.6 L172.8 212.3 L173.8 210.4 L174.8 208.2 L175.8 206.3 L176.8 203.8 L177.8 202.1 L178.8 201.2 L179.8 198.3 L180.8 196.2 L181.8 195.1 L182.8 193.9 L183.8 191.1 L184.8 190.3 L185.8 188.8 L186.8 187.0 L187.8 186.8 L188.8 185.3 L189.8 184.2 L190.8 182.7 L191.8 182.3 L192.8 180.9 L193.8 180.2 L194.8 179.0 L195.8 178.3 L196.8 178.7 L197.8 177.3 L198.8 177.1 L199.8 176.4 L200.8 175.7 L201.8 175.2 L202.8 175.2 L203.8 174.4 L204.8 174.0 L205.8 173.7 L206.8 173.8 L207.8 173.2 L208.8 172.7 L209.8 171.9 L210.8 171.2 L211.8 172.0 L212.8 171.6 L213.8 170.8 L214.8 170.8 L215.8 170.6 L216.8 170.3 L217.8 170.1 L218.8 169.2 L219.8 169.8 L220.8 168.3 L221.8 169.0 L222.8 168.5 L223.8 168.5 L224.8 168.7 L225.8 168.3 L226.8 166.9 L227.8 166.4 L228.8 167.3 L229.8 166.3 L230.8 166.5 L231.8 166.7 L232.8 165.4 L233.8 165.0 L234.8 165.8 L235.8 165.5 L236.8 165.2 L237.8 165.2 L238.8 164.6 L239.8 164.1 L240.8 164.5 L241.8 164.0 L242.8 163.5 L243.8 164.3 L244.8 163.9 L245.8 163.9 L246.8 163.1 L247.8 163.1 L248.8 162.7 L249.8 162.6 L250.8 162.9 L251.8 162.3 L252.8 162.6 L253.8 162.4 L254.8 162.9 L255.8 161.1 L256.8 162.0 L257.8 161.3 L258.8 161.1 L259.8 160.3 L260.8 160.6 L261.8 161.0 L262.8 160.6 L263.8 160.6 L264.8 160.4 L265.8 161.0 L266.8 160.6 L267.8 159.7 L268.8 160.5 L269.8 160.0 L270.8 159.5 L271.8 160.8 L272.8 161.1 L273.8 158.6 L274.8 155.4 L275.8 152.9 L276.8 151.6 L277.8 149.2 L278.8 147.2 L279.8 145.3 L280.8 143.5 L281.8 142.3 L282.8 141.0 L283.8 140.0 L284.8 138.7 L285.8 138.8 L286.8 137.7 L287.8 137.9 L288.8 136.4 L289.8 136.5 L290.8 136.2 L291.8 135.2 L292.8 136.3 L293.8 135.8 L294.8 134.7 L295.8 135.0 L296.8 134.5 L297.8 132.9 L298.8 133.9 L299.8 133.5 L300.8 133.3 L301.8 132.5 L302.8 132.6 L303.8 132.4 L304.8 132.7 L305.8 132.1 L306.8 131.7 L307.8 132.1 L308.8 131.0 L309.8 130.8 L310.8 129.9 L311.8 131.2 L312.8 130.8 L313.8 130.5 L314.8 130.2 L315.8 129.8 L316.8 129.6 L317.8 129.2 L318.8 129.0 L319.8 129.0 L320.8 129.5 L321.8 128.9 L322.8 128.5 L323.8 128.2 L324.8 128.1 L325.8 129.0 L326.8 128.4 L327.8 128.1 L328.8 127.8 L329.8 127.3 L330.8 127.7 L331.8 128.0 L332.8 127.4 L333.8 127.3 L334.8 127.3 L335.8 127.3 L336.8 126.5 L337.8 127.0 L338.8 126.7 L339.8 127.4 L340.8 126.6 L341.8 127.2 L342.8 127.6 L343.8 126.7 L344.8 126.6 L345.8 126.9 L346.8 126.8" stroke="#14a866" stroke-width="3.2"/>
<path d="M20.2 97.2 L21.2 104.5 L22.2 111.7" stroke="#ef3415" stroke-width="2.0"/>
<path d="M22.2 111.7 L23.2 119.3" stroke="#ef3415" stroke-width="2.2"/>
<path d="M23.2 119.3 L24.2 126.0" stroke="#ef3415" stroke-width="2.8"/>
<path d="M24.2 126.0 L25.2 134.4" stroke="#ef3415" stroke-width="3.2"/>
<path d="M25.2 134.4 L26.2 140.8 L27.2 147.2 L28.2 152.3 L29.2 157.2 L30.2 161.1 L31.2 164.7 L32.2 168.7 L33.2 172.3 L34.2 174.3 L35.2 177.7 L36.2 180.1 L37.2 183.2 L38.2 184.6 L39.2 187.2 L40.2 189.7 L41.2 191.7 L42.2 192.8 L43.2 195.6 L44.2 197.3 L45.2 199.0 L46.2 200.8 L47.2 202.7 L48.2 203.4 L49.2 206.5 L50.2 206.8 L51.2 207.4 L52.2 209.5 L53.2 211.3 L54.2 211.4 L55.2 213.3 L56.2 214.2 L57.2 213.9 L58.2 213.9 L59.2 215.2 L60.2 217.0 L61.2 216.8 L62.2 217.1 L63.2 217.8 L64.2 218.9 L65.2 219.5 L66.2 220.4 L67.2 221.0 L68.2 220.6 L69.2 221.4 L70.2 221.4 L71.2 222.4 L72.2 222.2 L73.2 222.6 L74.2 224.5 L75.2 223.9 L76.2 224.5 L77.2 225.7 L78.2 225.2 L79.2 225.1 L80.2 225.5 L81.2 225.4 L82.2 226.4 L83.2 226.1 L84.2 227.2 L85.2 226.5 L86.2 226.8 L87.2 227.0 L88.2 227.7 L89.2 227.7 L90.2 228.4 L91.2 227.8 L92.2 228.4 L93.2 229.4 L94.2 228.7 L95.2 229.3 L96.2 230.1 L97.2 229.9 L98.2 229.6 L99.2 229.1 L100.2 231.3 L101.2 230.5 L102.2 230.9 L103.2 230.1 L104.2 231.1 L105.2 230.4 L106.2 230.2 L107.2 229.7 L108.2 230.2 L109.2 229.8 L110.2 229.9 L111.2 229.3 L112.2 229.9 L113.2 230.3 L114.2 229.8 L115.2 230.6 L116.2 231.0 L117.2 230.7 L118.2 230.6 L119.2 230.7 L120.2 231.4 L121.2 230.3 L122.2 230.8 L123.2 230.7 L124.2 230.9 L125.2 230.7 L126.2 230.2 L127.2 231.5 L128.2 230.6 L129.2 229.8 L130.2 229.8 L131.2 230.1 L132.2 230.2 L133.2 229.2 L134.2 230.0 L135.2 228.9 L136.2 229.0 L137.2 229.6 L138.2 229.8 L139.2 228.9 L140.2 228.6 L141.2 229.1 L142.2 227.9 L143.2 228.2 L144.2 228.0 L145.2 228.3 L146.2 228.3 L147.2 229.4 L148.2 231.4 L149.2 231.3 L150.2 231.8 L151.2 230.2 L152.2 228.7 L153.2 227.3 L154.2 224.5 L155.2 221.3 L156.2 217.6 L157.2 214.5 L158.2 211.3 L159.2 208.0 L160.2 205.2 L161.2 203.7 L162.2 201.1 L163.2 197.5 L164.2 195.3 L165.2 193.0 L166.2 189.5 L167.2 187.2 L168.2 184.7 L169.2 184.1 L170.2 182.7 L171.2 181.5 L172.2 181.0 L173.2 179.2 L174.2 178.4 L175.2 178.6 L176.2 176.4 L177.2 176.6 L178.2 174.9 L179.2 175.0 L180.2 175.2 L181.2 173.8 L182.2 172.8 L183.2 173.8 L184.2 172.1 L185.2 172.0 L186.2 172.0 L187.2 171.1 L188.2 172.0 L189.2 172.1 L190.2 171.6 L191.2 171.2 L192.2 170.9 L193.2 171.2 L194.2 169.3 L195.2 170.6 L196.2 170.6 L197.2 169.5 L198.2 170.5 L199.2 170.2 L200.2 170.1 L201.2 170.0 L202.2 170.1 L203.2 170.0 L204.2 169.2 L205.2 169.4 L206.2 169.2 L207.2 169.2 L208.2 168.7 L209.2 169.2 L210.2 169.2 L211.2 169.1 L212.2 169.1 L213.2 168.7 L214.2 167.6 L215.2 167.3 L216.2 167.2 L217.2 167.4 L218.2 166.9 L219.2 167.3 L220.2 167.4 L221.2 166.2 L222.2 166.7 L223.2 165.9 L224.2 165.3 L225.2 165.2 L226.2 165.5 L227.2 164.6 L228.2 165.5 L229.2 165.8 L230.2 164.5 L231.2 164.7 L232.2 165.4 L233.2 164.7 L234.2 164.5 L235.2 164.2 L236.2 164.6 L237.2 164.2 L238.2 163.4 L239.2 162.7 L240.2 162.4 L241.2 163.8 L242.2 163.3 L243.2 163.9 L244.2 163.4 L245.2 162.5 L246.2 163.0 L247.2 163.3 L248.2 162.3 L249.2 162.3 L250.2 163.3 L251.2 161.6 L252.2 161.7 L253.2 162.6 L254.2 162.1 L255.2 161.3 L256.2 161.1 L257.2 161.8 L258.2 162.1 L259.2 161.8 L260.2 161.5 L261.2 161.9 L262.2 161.3 L263.2 160.7 L264.2 161.9 L265.2 160.5 L266.2 160.9 L267.2 161.2 L268.2 162.4 L269.2 161.9 L270.2 162.6 L271.2 161.9 L272.2 161.6 L273.2 159.8 L274.2 157.1 L275.2 153.3 L276.2 151.0 L277.2 148.4 L278.2 146.7 L279.2 145.0 L280.2 144.0 L281.2 141.7 L282.2 140.8 L283.2 139.3 L284.2 138.6 L285.2 137.8 L286.2 137.4 L287.2 137.3 L288.2 135.9 L289.2 136.3 L290.2 135.2 L291.2 135.4 L292.2 134.7 L293.2 134.5 L294.2 134.2 L295.2 134.5 L296.2 133.9 L297.2 134.0 L298.2 133.2 L299.2 133.0 L300.2 133.7 L301.2 132.1 L302.2 132.3 L303.2 132.5 L304.2 133.3 L305.2 132.0 L306.2 132.6 L307.2 132.8 L308.2 131.9 L309.2 131.8 L310.2 132.6 L311.2 131.5 L312.2 131.2 L313.2 131.9 L314.2 131.3 L315.2 132.0 L316.2 131.6 L317.2 130.5 L318.2 131.4 L319.2 131.2 L320.2 130.9 L321.2 131.7 L322.2 130.4 L323.2 130.6 L324.2 131.0 L325.2 131.5 L326.2 130.5 L327.2 130.9 L328.2 130.9 L329.2 130.5 L330.2 131.0 L331.2 130.7 L332.2 131.0 L333.2 131.3 L334.2 130.8 L335.2 130.8 L336.2 130.7 L337.2 130.8 L338.2 130.5 L339.2 130.6 L340.2 131.2 L341.2 130.8 L342.2 132.7 L343.2 130.8 L344.2 131.4 L345.2 130.5 L346.2 131.1 L347.2 130.9" stroke="#ef3415" stroke-width="3.5"/>
</g>
<!-- scale bar -->
<path d="M347.8 197.5 L347.8 253.5 L287 253.5" fill="none" stroke="#000" stroke-width="2.8"/>
<text x="298.5" y="272.6" font-size="17.4">5 min</text>
<text transform="translate(367.8 253.8) rotate(-90)" font-size="16.6">F/F<tspan font-size="10.5" dy="5.8">0</tspan><tspan dy="-5.8" dx="0.3">(a.u.)</tspan></text>
<!-- legend -->
<g stroke-width="3" stroke-linecap="round">
<line x1="33.3" y1="293.4" x2="60.8" y2="293.4" stroke="#000"/>
<line x1="33.3" y1="320.6" x2="60.8" y2="320.6" stroke="#3b84c0"/>
<line x1="33.3" y1="347.6" x2="60.8" y2="347.6" stroke="#14a866"/>
<line x1="31.8" y1="374.5" x2="60.8" y2="374.5" stroke="#ef3415"/>
<line x1="214" y1="293.6" x2="241.5" y2="293.6" stroke="#b5b5b5"/>
<line x1="214" y1="320.4" x2="241.5" y2="320.4" stroke="#22618f"/>
<line x1="214" y1="347.5" x2="241.5" y2="347.5" stroke="#f1c0a0"/>
</g>
<g font-size="17.3">
<text x="68.5" y="299.5">3.63 nM Ca<tspan font-size="9.8" dy="-6.2" dx="1">2+</tspan></text>
<text x="68.5" y="326.8">220 nM Ca<tspan font-size="9.8" dy="-6.2" dx="1">2+</tspan></text>
<text x="68.5" y="353.6">729 nM Ca<tspan font-size="9.8" dy="-6.2" dx="1">2+</tspan></text>
<text x="68.5" y="380.6">6410 nM Ca<tspan font-size="9.8" dy="-6.2" dx="1">2+</tspan></text>
<text x="250" y="299.5">167 nM Ca<tspan font-size="9.8" dy="-6.2" dx="1">2+</tspan></text>
<text x="250" y="326.8">302 nM Ca<tspan font-size="9.8" dy="-6.2" dx="1">2+</tspan></text>
<text x="250" y="353.6">2470 nM Ca<tspan font-size="9.8" dy="-6.2" dx="1">2+</tspan></text>
</g>
<!-- panel b -->
<text x="416" y="23.6" font-size="32">b</text>
<path d="M503.2 70.2 L508.5 70.2 L508.5 298.5 L746 298.5" fill="none" stroke="#000" stroke-width="1.7"/>
<g stroke="#000" stroke-width="1.7">
<line x1="503.2" y1="112.5" x2="508.5" y2="112.5"/>
<line x1="503.2" y1="154.8" x2="508.5" y2="154.8"/>
<line x1="503.2" y1="197.1" x2="508.5" y2="197.1"/>
<line x1="503.2" y1="239.5" x2="508.5" y2="239.5"/>
<line x1="503.2" y1="281.8" x2="508.5" y2="281.8"/>
<line x1="508.5" y1="298.5" x2="508.5" y2="303.6"/>
<line x1="581.5" y1="298.5" x2="581.5" y2="303.6"/>
<line x1="654.5" y1="298.5" x2="654.5" y2="303.6"/>
<line x1="727.5" y1="298.5" x2="727.5" y2="303.6"/>
</g>
<g font-size="17.3" text-anchor="end">
<text x="498.5" y="77.2">0.025</text>
<text x="498.5" y="119.5">0.020</text>
<text x="498.5" y="161.8">0.015</text>
<text x="498.5" y="204.1">0.010</text>
<text x="498.5" y="246.5">0.005</text>
<text x="498.5" y="288.8">0</text>
</g>
<g font-size="17.3" text-anchor="middle">
<text x="508.9" y="324.8">0</text>
<text x="581.5" y="324.8">2000</text>
<text x="654.5" y="324.8">4000</text>
<text x="727.5" y="324.8">6000</text>
</g>
<text x="582" y="353.4" font-size="17.4">free [Ca<tspan font-size="9.8" dy="-6.2" dx="0.8">2+</tspan><tspan dy="6.2">] (nM)</tspan></text>
<text transform="translate(439.5 304.1) rotate(-90)" font-size="17.4">d(F/F<tspan font-size="10" dy="5.5">0</tspan><tspan dy="-5.5">)/dt (velocity alkalization)</tspan></text>
<text x="593.5" y="227" font-size="17.3">K<tspan font-size="10" dy="6">m</tspan><tspan dy="-6" dx="-1.6"> : 400 nM</tspan></text>
<path d="M508.50 281.80 L508.68 279.49 L508.87 277.24 L509.05 275.04 L509.23 272.90 L509.42 270.81 L509.60 268.77 L509.78 266.78 L509.97 264.83 L510.15 262.94 L510.33 261.08 L510.52 259.27 L510.70 257.50 L510.88 255.77 L511.07 254.08 L511.25 252.42 L511.43 250.80 L511.62 249.22 L511.80 247.66 L511.98 246.14 L512.17 244.66 L512.35 243.20 L512.53 241.77 L512.72 240.37 L512.90 239.00 L513.08 237.65 L513.27 236.34 L513.45 235.04 L513.63 233.77 L513.82 232.53 L514.00 231.31 L514.18 230.11 L514.37 228.93 L514.55 227.78 L514.73 226.65 L514.92 225.53 L515.10 224.44 L515.28 223.36 L515.47 222.31 L515.65 221.27 L515.84 220.25 L516.02 219.25 L516.20 218.26 L516.39 217.29 L516.57 216.34 L516.75 215.40 L516.94 214.48 L517.12 213.58 L517.30 212.68 L517.49 211.81 L517.67 210.94 L517.85 210.09 L518.04 209.25 L518.22 208.43 L518.40 207.62 L518.59 206.82 L518.77 206.03 L518.95 205.25 L519.14 204.49 L519.32 203.74 L519.50 202.99 L519.69 202.26 L519.87 201.54 L520.05 200.83 L520.24 200.13 L520.42 199.44 L520.60 198.76 L520.79 198.09 L520.97 197.43 L521.15 196.77 L521.34 196.13 L521.52 195.49 L521.70 194.87 L521.89 194.25 L522.07 193.64 L522.25 193.04 L522.44 192.44 L522.62 191.86 L522.80 191.28 L522.99 190.71 L523.17 190.14 L523.35 189.59 L523.54 189.04 L523.72 188.49 L523.90 187.96 L524.09 187.43 L524.27 186.90 L524.45 186.39 L524.64 185.88 L524.82 185.37 L525.00 184.87 L525.19 184.38 L525.37 183.90 L525.55 183.41 L525.74 182.94 L525.92 182.47 L526.10 182.01 L526.29 181.55 L526.47 181.09 L526.65 180.65 L526.84 180.20 L527.02 179.76 L527.20 179.33 L527.39 178.90 L527.57 178.48 L527.75 178.06 L527.94 177.64 L528.12 177.23 L528.30 176.83 L528.49 176.43 L528.67 176.03 L528.85 175.64 L529.04 175.25 L529.22 174.87 L529.40 174.49 L529.59 174.11 L529.77 173.74 L529.96 173.37 L530.14 173.00 L530.32 172.64 L530.51 172.28 L530.69 171.93 L530.87 171.58 L531.06 171.23 L531.24 170.89 L531.42 170.55 L531.61 170.21 L531.79 169.88 L531.97 169.55 L532.16 169.22 L532.34 168.90 L532.52 168.58 L532.71 168.26 L532.89 167.95 L533.07 167.64 L533.26 167.33 L533.44 167.02 L533.62 166.72 L533.81 166.42 L533.99 166.12 L534.17 165.83 L534.36 165.54 L534.54 165.25 L534.72 164.96 L534.91 164.68 L535.09 164.40 L535.27 164.12 L535.46 163.84 L535.64 163.57 L535.82 163.30 L536.01 163.03 L536.19 162.76 L536.37 162.50 L536.56 162.24 L536.74 161.98 L536.92 161.72 L537.11 161.46 L537.29 161.21 L537.47 160.96 L537.66 160.71 L537.84 160.46 L538.02 160.22 L538.21 159.98 L538.39 159.74 L538.57 159.50 L538.76 159.26 L538.94 159.03 L539.12 158.79 L539.31 158.56 L539.49 158.34 L539.67 158.11 L539.86 157.88 L540.04 157.66 L540.22 157.44 L540.41 157.22 L540.59 157.00 L540.77 156.78 L540.96 156.57 L541.14 156.36 L541.32 156.15 L541.51 155.94 L541.69 155.73 L541.87 155.52 L542.06 155.32 L542.24 155.11 L542.42 154.91 L542.61 154.71 L542.79 154.51 L542.97 154.32 L543.16 154.12 L543.34 153.93 L543.52 153.73 L543.71 153.54 L543.89 153.35 L544.08 153.16 L544.26 152.98 L544.44 152.79 L544.63 152.61 L544.81 152.42 L544.99 152.24 L545.17 152.06 L546.17 151.10 L547.17 150.18 L548.17 149.29 L549.17 148.44 L550.17 147.61 L551.17 146.81 L552.16 146.04 L553.16 145.30 L554.16 144.58 L555.16 143.89 L556.16 143.22 L557.16 142.57 L558.15 141.94 L559.15 141.33 L560.15 140.73 L561.15 140.16 L562.15 139.60 L563.15 139.06 L564.15 138.53 L565.14 138.02 L566.14 137.53 L567.14 137.04 L568.14 136.57 L569.14 136.12 L570.14 135.67 L571.14 135.24 L572.13 134.82 L573.13 134.40 L574.13 134.00 L575.13 133.61 L576.13 133.23 L577.13 132.86 L578.12 132.49 L579.12 132.14 L580.12 131.79 L581.12 131.45 L582.12 131.12 L583.12 130.80 L584.12 130.48 L585.11 130.17 L586.11 129.87 L587.11 129.57 L588.11 129.28 L589.11 129.00 L590.11 128.72 L591.10 128.45 L592.10 128.18 L593.10 127.92 L594.10 127.66 L595.10 127.41 L596.10 127.16 L597.10 126.92 L598.09 126.69 L599.09 126.45 L600.09 126.23 L601.09 126.00 L602.09 125.78 L603.09 125.57 L604.09 125.36 L605.08 125.15 L606.08 124.95 L607.08 124.75 L608.08 124.55 L609.08 124.36 L610.08 124.17 L611.07 123.98 L612.07 123.80 L613.07 123.62 L614.07 123.44 L615.07 123.26 L616.07 123.09 L617.07 122.92 L618.06 122.76 L619.06 122.59 L620.06 122.43 L621.06 122.27 L622.06 122.12 L623.06 121.97 L624.05 121.81 L625.05 121.67 L626.05 121.52 L627.05 121.38 L628.05 121.23 L629.05 121.09 L630.05 120.96 L631.04 120.82 L632.04 120.69 L633.04 120.55 L634.04 120.42 L635.04 120.29 L636.04 120.17 L637.04 120.04 L638.03 119.92 L639.03 119.80 L640.03 119.68 L641.03 119.56 L642.03 119.45 L643.03 119.33 L644.02 119.22 L645.02 119.11 L646.02 119.00 L647.02 118.89 L648.02 118.78 L649.02 118.67 L650.02 118.57 L651.01 118.47 L652.01 118.36 L653.01 118.26 L654.01 118.16 L655.01 118.06 L656.01 117.97 L657.01 117.87 L658.00 117.78 L659.00 117.68 L660.00 117.59 L661.00 117.50 L662.00 117.41 L663.00 117.32 L663.99 117.23 L664.99 117.15 L665.99 117.06 L666.99 116.97 L667.99 116.89 L668.99 116.81 L669.99 116.72 L670.98 116.64 L671.98 116.56 L672.98 116.48 L673.98 116.41 L674.98 116.33 L675.98 116.25 L676.97 116.17 L677.97 116.10 L678.97 116.03 L679.97 115.95 L680.97 115.88 L681.97 115.81 L682.97 115.74 L683.96 115.67 L684.96 115.60 L685.96 115.53 L686.96 115.46 L687.96 115.39 L688.96 115.32 L689.96 115.26 L690.95 115.19 L691.95 115.13 L692.95 115.06 L693.95 115.00 L694.95 114.94 L695.95 114.87 L696.94 114.81 L697.94 114.75 L698.94 114.69 L699.94 114.63 L700.94 114.57 L701.94 114.51 L702.94 114.46 L703.93 114.40 L704.93 114.34 L705.93 114.28 L706.93 114.23 L707.93 114.17 L708.93 114.12 L709.92 114.06 L710.92 114.01 L711.92 113.96 L712.92 113.90 L713.92 113.85 L714.92 113.80 L715.92 113.75 L716.91 113.70 L717.91 113.64 L718.91 113.59 L719.91 113.54 L720.91 113.50 L721.91 113.45 L722.91 113.40 L723.90 113.35 L724.90 113.30 L725.90 113.26 L726.90 113.21 L727.90 113.16 L728.90 113.12 L729.89 113.07 L730.89 113.03 L731.89 112.98 L732.89 112.94 L733.89 112.89 L734.89 112.85 L735.89 112.80 L736.88 112.76 L737.88 112.72 L738.88 112.68 L739.88 112.63 L740.88 112.59 L741.88 112.55 L742.87 112.51 L743.87 112.47" fill="none" stroke="#000" stroke-width="2.2"/>
<g fill="#000">
<circle cx="508.2" cy="276" r="4.5"/>
<circle cx="514.5" cy="284.3" r="4.5"/>
<circle cx="517.8" cy="267.5" r="4.5"/>
<circle cx="520.2" cy="245.7" r="4.5"/>
<circle cx="536.3" cy="152.9" r="4.5"/>
<circle cx="600.6" cy="91" r="4.5"/>
<circle cx="742.5" cy="96.7" r="4.5"/>
</g>
</svg>
</body></html>
